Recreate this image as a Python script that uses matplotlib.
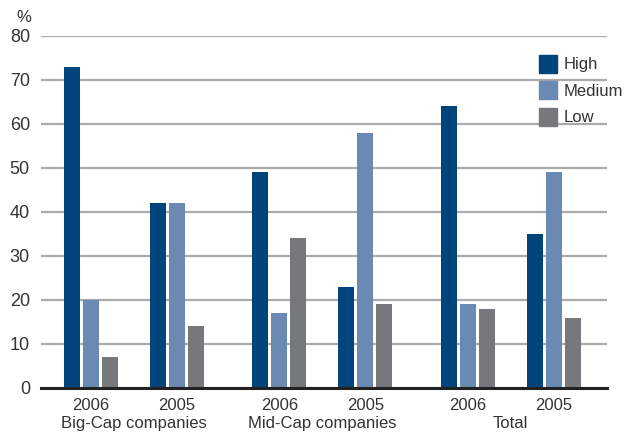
import numpy as np
from matplotlib import pyplot as plt
from matplotlib.patches import Patch

years = ["2006", "2005", "2006", "2005", "2006", "2005"]
groups = ["Big-Cap companies", "Mid-Cap companies", "Total"]
series = ["High", "Medium", "Low"]
high = [73, 42, 49, 23, 64, 35]
medium = [20, 42, 17, 58, 19, 49]
low = [7, 14, 34, 19, 18, 16]
colors = ["#00447c", "#6a8ab4", "#77787b"]

plt.rcParams["font.family"] = ["Liberation Sans", "DejaVu Sans"]

fig = plt.figure(figsize=(6.31, 4.33), dpi=100)
ax = fig.add_axes([41 / 631, 45 / 433, 566 / 631, 352 / 433])

# pairs of years sit closer together than the company groups
centers = np.array([0, 1, 2.19, 3.19, 4.38, 5.38])
width = 0.186
step = 0.221

for k, (vals, col) in enumerate(zip([high, medium, low], colors)):
    ax.bar(centers + (k - 1) * step, vals, width, color=col, zorder=3)

ax.set_xlim(-0.58, 6.0)
ax.set_ylim(0, 80)
ax.set_yticks(range(0, 81, 10))
ax.yaxis.grid(True, color="#aaaaaa", linewidth=1.6, zorder=0)
for side in ["top", "right", "left"]:
    ax.spines[side].set_visible(False)
ax.spines["bottom"].set_color("#222222")
ax.spines["bottom"].set_linewidth(2.2)
ax.spines["bottom"].set_zorder(4)
ax.tick_params(axis="y", length=0, labelsize=13, labelcolor="#333333", pad=8)
ax.tick_params(axis="x", length=0, labelsize=12, labelcolor="#333333", pad=7)
ax.set_xticks(centers)
ax.set_xticklabels(years)

for i, name in enumerate(groups):
    mid = (centers[2 * i] + centers[2 * i + 1]) / 2
    ax.text(mid, -0.08, name, transform=ax.get_xaxis_transform(),
            ha="center", va="top", fontsize=12, color="#333333")

fig.text(24 / 631, 1 - 17 / 433, "%", ha="center", va="center",
         fontsize=12, color="#333333")

handles = [Patch(color=c, label=s) for c, s in zip(colors, series)]
ax.legend(handles=handles, loc="upper left", bbox_to_anchor=(0.868, 0.966),
          frameon=False, fontsize=12, handlelength=1.1, handleheight=1.3,
          handletextpad=0.4, labelspacing=0.5, borderaxespad=0,
          labelcolor="#333333")

fig.savefig("out.png", dpi=100)
